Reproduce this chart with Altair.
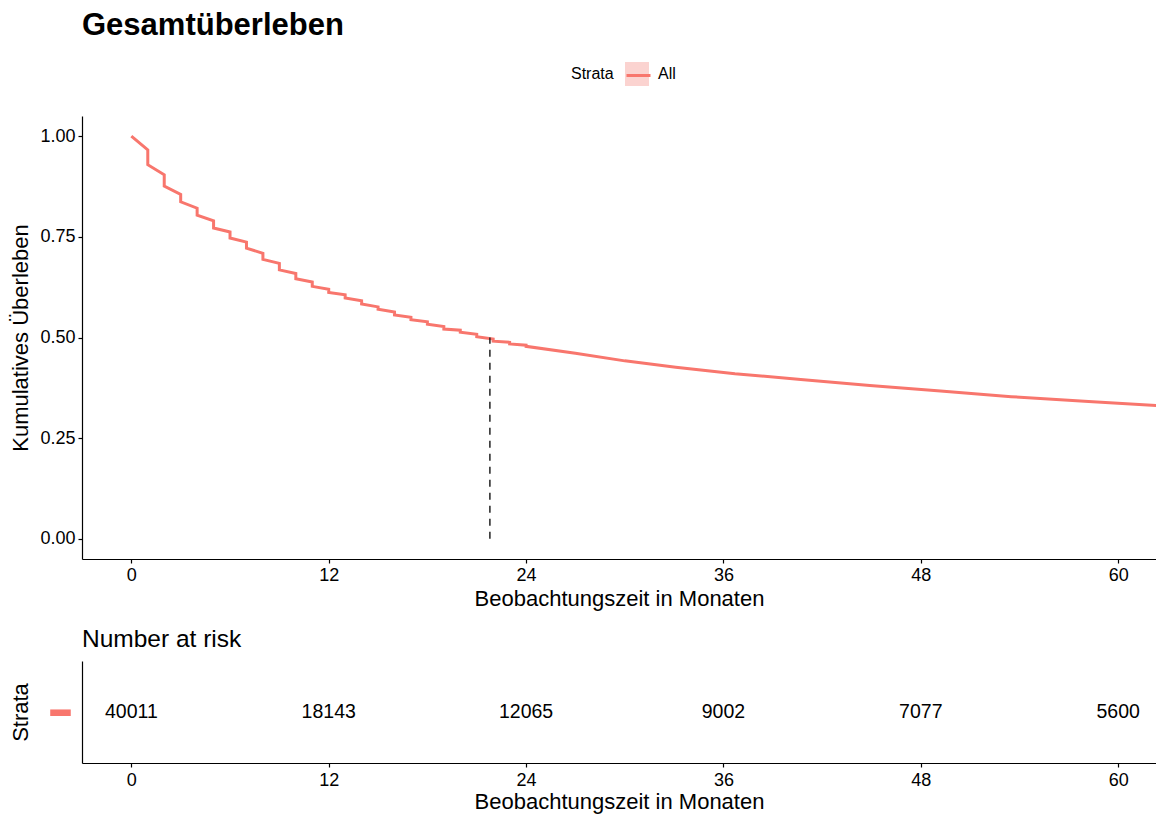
import altair as alt
import pandas as pd

# ---- Kaplan-Meier curve ----
# monthly drops: value just before the drop and just after it
step_months = list(range(1, 25))
surv_before = [0.966, 0.904, 0.855, 0.821, 0.790, 0.762, 0.737, 0.709, 0.684, 0.659, 0.638, 0.620,
               0.606, 0.591, 0.576, 0.563, 0.550, 0.539, 0.527, 0.518, 0.508, 0.496, 0.488, 0.481]
surv_after = [0.929, 0.876, 0.837, 0.804, 0.772, 0.747, 0.722, 0.694, 0.668, 0.646, 0.627, 0.612,
              0.598, 0.583, 0.570, 0.556, 0.544, 0.533, 0.521, 0.513, 0.502, 0.491, 0.484, 0.478]
# later part (steps too small to read one by one)
late_months = [27.0, 30.0, 33.1, 36.7, 40.7, 44.9, 49.2, 53.5, 58.2, 62.8]
late_surv = [0.461, 0.442, 0.426, 0.410, 0.396, 0.381, 0.367, 0.353, 0.341, 0.330]

median_time = [21.8]
median_surv = [0.5]

tick_months = [0, 12, 24, 36, 48, 60]
risk_times = [0, 12, 24, 36, 48, 60]
risk_n = [40011, 18143, 12065, 9002, 7077, 5600]
y_ticks = [0.0, 0.25, 0.5, 0.75, 1.0]

RED = "#F8766D"
PINK = "#FBD3D0"
FONT = "Liberation Sans"

# build table
t, s = [0], [1.0]
for m, b, a in zip(step_months, surv_before, surv_after):
    t += [m, m]
    s += [b, a]
t += late_months
s += late_surv
km = pd.DataFrame({"time": t, "surv": s})
km["idx"] = range(len(km))
km["strata"] = "All"
km["band"] = "All"

med = pd.DataFrame({"time": median_time, "surv": median_surv, "zero": [0.0]})
risk = pd.DataFrame({"time": risk_times, "n": risk_n, "strata": "All"})

XDOM = [-3, 62.3]
W = 1074

x_main = alt.X("time:Q", scale=alt.Scale(domain=XDOM, nice=False, zero=False),
               axis=alt.Axis(values=tick_months, title="Beobachtungszeit in Monaten"))
y_main = alt.Y("surv:Q", scale=alt.Scale(domain=[-0.05, 1.05], nice=False, zero=False),
               axis=alt.Axis(values=y_ticks, format=".2f", title="Kumulatives Überleben", titleX=-50))

line = alt.Chart(km).mark_line(strokeWidth=3, clip=True).encode(
    x=x_main, y=y_main, order="idx:Q",
    stroke=alt.Stroke("strata:N", scale=alt.Scale(range=[RED]),
                      legend=alt.Legend(title=None, orient="none", legendX=543, legendY=-54,
                                        symbolType="stroke", symbolSize=576, symbolStrokeWidth=3,
                                        labelExpr="''", padding=0)),
)

band_legend = alt.Chart(km).transform_filter("datum.idx == 0").mark_point(
    filled=True, opacity=0, clip=True).encode(
    x="time:Q", y="surv:Q",
    fill=alt.Fill("band:N", scale=alt.Scale(range=[PINK]),
                  legend=alt.Legend(title="Strata", orient="none", legendX=489, legendY=-54,
                                    titleOrient="left", titleFontSize=16, titleFontWeight="normal",
                                    titlePadding=11, labelFontSize=16, labelOffset=9,
                                    symbolType="square", symbolSize=576, symbolOpacity=1,
                                    symbolStrokeWidth=0, padding=0, titleBaseline="middle")),
)

median_rule = alt.Chart(med).mark_rule(strokeDash=[7, 6], strokeWidth=1.5, color="#222222").encode(
    x="time:Q", y="zero:Q", y2="surv:Q")

main = alt.layer(band_legend, line, median_rule).properties(
    width=W, height=443,
    title=alt.TitleParams("Gesamtüberleben", anchor="start", frame="group", fontSize=31,
                          fontWeight="bold", font=FONT, color="black", offset=20),
).resolve_legend(stroke="independent", fill="independent")

risk_chart = alt.Chart(risk).mark_text(fontSize=19.5, font=FONT, color="black").encode(
    x=alt.X("time:Q", scale=alt.Scale(domain=XDOM, nice=False, zero=False),
            axis=alt.Axis(values=tick_months, title="Beobachtungszeit in Monaten",
                          labelPadding=4, titlePadding=2)),
    y=alt.Y("strata:N", axis=alt.Axis(title="Strata", titleX=-50, labelExpr="'-'", labelFontSize=84,
                                      labelColor=RED, ticks=False, labelBaseline="alphabetic",
                                      labelOffset=22, labelPadding=8)),
    text=alt.Text("n:Q", format="d"),
).properties(
    width=W, height=102,
    title=alt.TitleParams("Number at risk", anchor="start", frame="group", fontSize=24.5,
                          fontWeight="normal", font=FONT, color="black", offset=9),
)

chart = alt.vconcat(main, risk_chart, spacing=17).resolve_scale(
    x="independent", y="independent").resolve_legend(stroke="independent", fill="independent").properties(
    padding={"left": 1, "top": 2, "right": 0, "bottom": 8}
).configure(font=FONT).configure_view(stroke=None).configure_axis(
    grid=False, domainColor="black", domainWidth=1.2, tickColor="black", tickSize=4, tickWidth=1.2,
    labelColor="black", titleColor="black", labelFontSize=18, titleFontSize=22,
    titleFontWeight="normal", labelFont=FONT, titleFont=FONT, labelPadding=3, titlePadding=4,
).configure_legend(labelColor="black", titleColor="black", labelFont=FONT, titleFont=FONT)

chart.save("out.html", embed_options={"renderer": "svg", "actions": False})
